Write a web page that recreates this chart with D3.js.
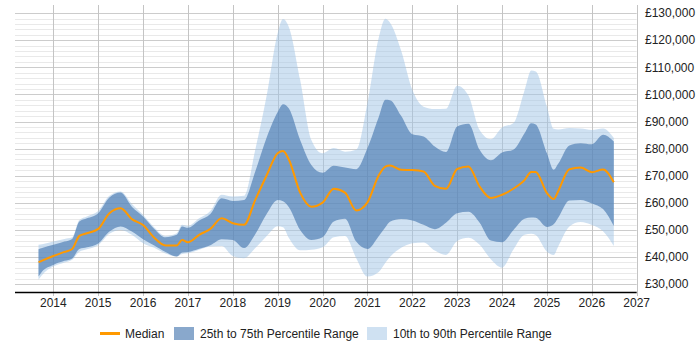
<!DOCTYPE html>
<html>
  <head>
    <meta charset="UTF-8" />
    <style>
      body { margin: 0; background: #fff; }
      svg { font-family: "Liberation Sans", Arial, sans-serif; }
    </style>
  </head>
  <body>
    <svg></svg>
    <script src="https://d3js.org/d3.v7.min.js"></script>
    <script>
      let width = 700,
        height = 350;

      // dates as decimal years
      let dates = [2013.67, 2013.75, 2014.0, 2014.25, 2014.42, 2014.58, 2014.75, 2015.0, 2015.25, 2015.5,
        2015.75, 2016.0, 2016.25, 2016.5, 2016.75, 2016.87, 2017.0, 2017.25, 2017.5, 2017.75,
        2018.0, 2018.25, 2018.5, 2018.75, 2019.0, 2019.12, 2019.25, 2019.5, 2019.75, 2020.0,
        2020.25, 2020.5, 2020.75, 2021.0, 2021.25, 2021.4, 2021.5, 2021.75, 2022.0, 2022.25,
        2022.5, 2022.75, 2023.0, 2023.25, 2023.5, 2023.75, 2024.0, 2024.25, 2024.5, 2024.65,
        2024.75, 2025.0, 2025.15, 2025.25, 2025.5, 2025.75, 2026.0, 2026.25, 2026.49];

      let median = [38100, 38700, 40400, 41900, 43000, 47800, 48800, 50400, 56200, 58000,
        54000, 51800, 47100, 44300, 44300, 46300, 45500, 48200, 50400, 54300,
        52500, 51900, 61100, 70000, 78300, 79100, 75900, 63800, 58600, 60100,
        65200, 63800, 57200, 60200, 70100, 73400, 73800, 72200, 72100, 71600,
        66300, 65200, 72500, 73400, 66000, 61800, 63000, 65200, 68400, 71400,
        71400, 63600, 61400, 64300, 72400, 73000, 71300, 72300, 67600];

      let p75 = [42900, 43300, 44500, 45700, 46700, 53100, 54300, 56200, 62000, 63800,
        58600, 55000, 50400, 47300, 48200, 51300, 50800, 53500, 55900, 61700,
        60700, 61100, 71600, 83900, 93500, 96400, 94800, 83200, 74000, 71100,
        73700, 73000, 72400, 80200, 91600, 98000, 97900, 92100, 85300, 84500,
        80800, 78800, 88200, 89200, 79600, 75700, 78600, 79600, 85700, 89400,
        88900, 78300, 72200, 74400, 81200, 82000, 81600, 85100, 82600];

      let p25 = [32800, 34700, 37100, 38600, 39500, 43000, 43600, 45000, 49400, 51300,
        49400, 46600, 44300, 41900, 40200, 41700, 41900, 43100, 44400, 46600,
        46300, 43300, 48400, 55800, 61100, 60600, 58400, 50000, 46300, 47300,
        53100, 54100, 45700, 43000, 47700, 51000, 53000, 54000, 53500, 51900,
        50300, 52700, 56200, 56700, 52700, 46100, 45500, 49900, 54100, 54600,
        54500, 51100, 52100, 54500, 60900, 61100, 59800, 57700, 51500];

      let p90 = [44500, 44700, 45700, 46700, 47300, 53700, 55000, 57000, 62600, 64200,
        59600, 55600, 50900, 47800, 48800, 51900, 51500, 54300, 57000, 63000,
        62300, 62600, 79600, 99200, 122600, 127800, 124800, 105400, 83200, 78300,
        80200, 78900, 79600, 96800, 120800, 127900, 126500, 116200, 101700, 95500,
        94600, 94700, 103200, 99600, 86900, 83500, 87800, 89400, 101500, 108800,
        108500, 95500, 87300, 87100, 87600, 87400, 86900, 87400, 83900];

      let p10 = [31600, 33400, 36500, 38000, 39000, 42000, 42900, 44400, 48600, 50000,
        48200, 45100, 43400, 41300, 40200, 41100, 41400, 42700, 43900, 44100,
        40400, 39600, 43300, 47700, 51400, 51000, 47000, 42500, 42700, 43600,
        47300, 47800, 39600, 32800, 34500, 37900, 40000, 43400, 45100, 45400,
        42400, 40800, 45900, 47100, 44500, 39200, 36100, 42700, 48200, 48600,
        48100, 42000, 40800, 43900, 51300, 52900, 51800, 49500, 44100];

      let years = d3.range(2014, 2028);
      let yTicks = d3.range(30000, 130001, 10000);
      let yMinor = d3.range(30000, 130001, 2000);

      let legendItems = ["Median", "25th to 75th Percentile Range", "10th to 90th Percentile Range"];

      let rows = dates.map((d, i) => ({
        t: d,
        median: median[i],
        p25: p25[i],
        p75: p75[i],
        p10: p10[i],
        p90: p90[i],
      }));

      let svg = d3.select("svg").attr("width", width).attr("height", height);

      let x = d3.scaleLinear().domain([2013.146, 2027]).range([15, 636.7]);
      let y = d3.scaleLinear().domain([27000, 133000]).range([292.3, 5]);

      let darkFill = "#4a7ab0",
        lightFill = "#a0c3e6";

      // grid
      let grid = svg.append("g");
      grid.selectAll("line.minor")
        .data(yMinor.filter((v) => v % 10000 != 0))
        .join("line")
        .attr("x1", 15).attr("x2", 636.7)
        .attr("y1", (d) => Math.round(y(d)) + 0.5)
        .attr("y2", (d) => Math.round(y(d)) + 0.5)
        .attr("stroke", "#e9e9e9");
      grid.selectAll("line.major")
        .data(yTicks)
        .join("line")
        .attr("x1", 15).attr("x2", 636.7)
        .attr("y1", (d) => Math.round(y(d)) + 0.5)
        .attr("y2", (d) => Math.round(y(d)) + 0.5)
        .attr("stroke", "#cccccc");
      grid.selectAll("line.vert")
        .data(years)
        .join("line")
        .attr("x1", (d) => Math.round(x(d)) + 0.5)
        .attr("x2", (d) => Math.round(x(d)) + 0.5)
        .attr("y1", 5).attr("y2", 296)
        .attr("stroke", "#c4c4c4");

      // bands
      let outer = d3.area().curve(d3.curveMonotoneX)
        .x((d) => x(d.t)).y0((d) => y(d.p10)).y1((d) => y(d.p90));
      let inner = d3.area().curve(d3.curveMonotoneX)
        .x((d) => x(d.t)).y0((d) => y(d.p25)).y1((d) => y(d.p75));
      let line = d3.line().curve(d3.curveMonotoneX)
        .x((d) => x(d.t)).y((d) => y(d.median));

      svg.append("path").datum(rows).attr("d", outer)
        .attr("fill", lightFill).attr("fill-opacity", 0.5);
      svg.append("path").datum(rows).attr("d", inner)
        .attr("fill", darkFill).attr("fill-opacity", 0.65);
      svg.append("path").datum(rows).attr("d", line)
        .attr("fill", "none").attr("stroke", "#ff9900").attr("stroke-width", 2);

      // x axis
      svg.append("line")
        .attr("x1", 15).attr("x2", 636.7)
        .attr("y1", 292.5).attr("y2", 292.5)
        .attr("stroke", "#000").attr("stroke-width", 1.3);

      svg.append("g").selectAll("text")
        .data(years)
        .join("text")
        .attr("x", (d) => x(d))
        .attr("y", 306.5)
        .attr("text-anchor", "middle")
        .attr("font-size", 12)
        .attr("fill", "#222")
        .text((d) => d);

      // y labels on the right
      svg.append("g").selectAll("text")
        .data(yTicks)
        .join("text")
        .attr("x", 645)
        .attr("y", (d) => y(d))
        .attr("dy", "0.35em")
        .attr("font-size", 12)
        .attr("fill", "#222")
        .text((d) => "£" + d3.format(",")(d));

      // legend
      let lg = svg.append("g").attr("font-size", 12).attr("fill", "#222");
      lg.append("line")
        .attr("x1", 100).attr("x2", 120).attr("y1", 333.5).attr("y2", 333.5)
        .attr("stroke", "#ff9900").attr("stroke-width", 3);
      lg.append("text").attr("x", 125).attr("y", 338).text(legendItems[0]);
      lg.append("rect").attr("x", 174).attr("y", 327).attr("width", 20).attr("height", 13)
        .attr("fill", darkFill).attr("fill-opacity", 0.65);
      lg.append("text").attr("x", 200).attr("y", 338).text(legendItems[1]);
      lg.append("rect").attr("x", 367).attr("y", 327).attr("width", 20).attr("height", 13)
        .attr("fill", lightFill).attr("fill-opacity", 0.5);
      lg.append("text").attr("x", 393).attr("y", 338).text(legendItems[2]);
    </script>
  </body>
</html>
